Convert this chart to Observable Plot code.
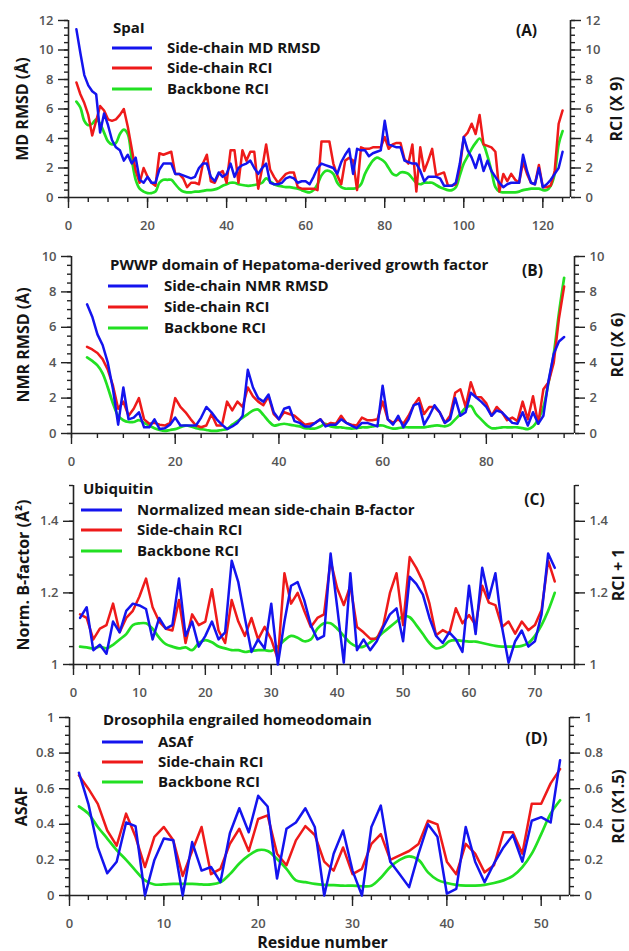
<!DOCTYPE html>
<html><head><meta charset="utf-8">
<script src="https://cdn.jsdelivr.net/npm/d3@7"></script>
<script src="https://cdn.jsdelivr.net/npm/@observablehq/plot@0.6"></script>
<style>
body{margin:0;background:#fff;}
#chart{width:629px;}
#chart svg{display:block;}
</style></head><body><div id="chart"></div>
<script>
const seriesColors = ["#1414ee", "#ee1a1a", "#22e022"];

// Panel A: SpaI (residues 2..125)
const aTitle = "SpaI";
const aNames = ["Side-chain MD RMSD", "Side-chain RCI", "Backbone RCI"];
const aStart = 2;
const aBlue = [11.4,9.8,8.3,7.6,7.2,7.0,4.4,5.7,4.9,3.9,3.4,3.2,2.5,2.9,2.3,2.7,1.2,1.0,1.4,1.0,1.0,1.9,2.3,2.3,2.3,1.6,1.6,1.5,1.4,1.3,1.4,2.0,2.3,2.3,1.4,1.1,1.7,1.4,1.6,2.3,1.4,2.0,2.2,2.3,2.5,2.0,1.6,2.0,2.3,1.0,0.9,0.9,1.0,1.3,1.4,1.3,1.0,1.1,1.1,0.9,1.4,2.0,2.3,2.2,2.1,2.0,1.6,2.4,2.9,3.3,1.6,3.3,3.2,3.2,2.8,3.0,3.1,3.2,5.2,3.6,3.5,3.4,3.4,2.5,2.4,2.3,2.3,1.8,1.1,1.4,1.4,1.4,1.3,0.8,0.8,0.8,1.0,2.3,4.1,3.2,2.7,2.0,2.9,1.8,2.5,1.8,1.4,1.0,0.7,0.9,1.0,1.0,1.0,2.9,1.8,1.0,0.9,2.0,0.7,0.9,1.2,1.6,2.0,3.1];
const aRed = [7.8,7.0,6.4,5.6,4.2,5.2,6.2,5.9,5.3,5.2,5.3,5.6,6.0,4.8,3.3,1.8,1.0,2.0,1.4,1.0,0.8,3.0,2.9,3.0,3.1,1.6,1.6,1.3,0.7,1.0,1.0,0.9,2.3,2.9,1.1,1.0,1.6,1.8,1.0,3.2,3.2,1.0,3.2,2.5,3.1,3.1,0.6,2.0,3.6,1.9,1.4,1.0,1.3,1.6,1.7,1.7,0.7,0.6,0.6,0.6,0.6,0.5,3.8,3.8,3.8,2.3,1.5,0.9,2.5,2.7,2.5,0.5,3.4,3.3,3.3,3.4,3.4,3.4,4.1,3.3,3.6,3.7,3.7,2.6,2.3,3.6,0.4,3.4,1.8,2.5,3.3,1.5,1.6,1.7,0.8,0.8,0.9,2.0,4.1,4.4,5.0,4.3,5.6,3.6,3.5,3.4,3.1,0.4,1.6,1.1,1.6,1.2,1.0,2.4,1.6,1.0,0.9,2.2,0.7,0.7,0.8,1.8,5.0,5.9];
const aGreen = [6.5,6.1,5.2,4.9,5.0,5.3,5.0,4.4,3.8,3.6,3.7,4.3,4.6,4.3,2.6,1.2,0.6,0.4,0.3,0.3,0.4,1.0,1.2,1.2,1.2,0.9,0.6,0.4,0.35,0.35,0.4,0.4,0.45,0.5,0.5,0.55,0.65,0.8,0.9,1.0,1.0,0.9,0.85,0.8,0.8,0.85,0.9,1.0,1.3,1.1,0.9,0.8,0.75,0.7,0.7,0.65,0.6,0.5,0.4,0.35,0.5,0.9,1.5,1.8,1.8,1.6,1.0,0.7,0.6,0.6,0.6,0.65,0.9,1.6,2.1,2.5,2.7,2.6,2.4,2.0,1.6,1.5,1.7,1.7,1.6,1.3,1.0,0.9,1.0,1.0,1.0,0.85,0.7,0.6,0.5,0.5,0.7,1.5,2.3,2.8,3.3,3.7,4.0,3.6,2.8,1.8,0.7,0.4,0.35,0.35,0.35,0.35,0.4,0.5,0.55,0.6,0.6,0.6,0.5,0.5,0.8,1.6,3.6,4.5];

// Panel B: PWWP domain (residues 3..95)
const bTitle = "PWWP domain of Hepatoma-derived growth factor";
const bNames = ["Side-chain NMR RMSD", "Side-chain RCI", "Backbone RCI"];
const bStart = 3;
const bBlue = [7.3,6.6,5.6,5.0,4.0,2.5,0.5,2.6,0.8,0.9,1.2,0.35,0.35,0.8,0.25,0.3,0.5,0.9,0.45,0.45,0.45,0.45,0.9,1.5,1.2,0.8,0.5,0.25,0.4,0.6,1.0,3.6,2.6,2.0,1.8,2.2,1.2,0.8,1.4,1.5,0.7,0.6,0.4,0.4,0.6,0.8,0.4,0.5,0.5,0.8,0.6,0.45,0.3,0.6,0.6,0.5,0.4,2.7,0.8,0.5,1.0,0.35,0.8,1.6,1.7,0.5,1.0,1.6,1.2,0.6,0.8,2.0,1.0,1.2,2.3,2.05,1.8,1.5,1.0,1.3,1.2,0.9,0.6,0.55,1.2,0.45,1.2,0.55,1.0,3.0,4.5,5.2,5.45];
const bRed = [4.9,4.75,4.55,4.2,3.6,2.7,1.4,1.8,1.0,1.4,2.0,0.8,0.55,0.6,0.5,0.45,0.6,2.0,1.5,1.2,0.8,0.45,0.35,0.45,1.1,0.45,0.45,1.8,1.3,1.8,1.5,2.6,2.1,1.8,1.6,2.1,1.1,0.8,1.2,1.1,1.0,0.75,0.5,0.55,0.6,0.8,0.45,0.6,0.55,1.0,0.6,0.5,0.45,0.9,0.75,0.75,0.8,1.8,0.8,0.6,0.8,0.55,1.0,1.6,2.0,1.1,1.5,1.5,1.2,0.6,1.0,2.3,2.5,1.5,2.9,2.05,2.05,1.7,1.0,1.5,1.2,0.75,0.9,0.7,1.8,0.8,2.1,0.55,2.5,2.9,4.0,6.5,8.3];
const bGreen = [4.3,4.1,3.85,3.4,2.6,1.7,1.0,0.75,0.65,0.65,0.75,0.6,0.45,0.3,0.2,0.15,0.2,0.25,0.35,0.45,0.4,0.3,0.25,0.2,0.15,0.15,0.2,0.25,0.5,0.7,0.9,1.1,1.3,1.35,1.05,0.7,0.45,0.5,0.55,0.5,0.45,0.4,0.3,0.28,0.28,0.4,0.55,0.4,0.35,0.35,0.3,0.28,0.3,0.35,0.35,0.4,0.45,0.45,0.35,0.28,0.3,0.35,0.35,0.35,0.35,0.35,0.4,0.45,0.45,0.4,0.5,0.8,1.1,1.45,1.55,1.1,0.8,0.5,0.3,0.3,0.35,0.35,0.35,0.35,0.3,0.25,0.4,0.8,1.5,2.9,4.5,6.8,8.8];

// Panel C: Ubiquitin (residues 1..73)
const cTitle = "Ubiquitin";
const cNames = ["Normalized mean side-chain B-factor", "Side-chain RCI", "Backbone RCI"];
const cStart = 1;
const cBlue = [1.13,1.16,1.04,1.055,1.03,1.12,1.09,1.15,1.17,1.165,1.155,1.07,1.13,1.1,1.11,1.24,1.08,1.12,1.05,1.08,1.12,1.07,1.09,1.29,1.23,1.13,1.035,1.07,1.045,1.17,1.0,1.12,1.22,1.23,1.18,1.11,1.07,1.08,1.31,1.16,1.005,1.255,1.04,1.07,1.04,1.065,1.105,1.14,1.157,1.065,1.245,1.225,1.195,1.13,1.08,1.06,1.09,1.07,1.035,1.22,1.085,1.27,1.185,1.255,1.105,1.005,1.065,1.095,1.05,1.065,1.14,1.31,1.27];
const cRed = [1.14,1.13,1.07,1.1,1.11,1.17,1.09,1.13,1.15,1.19,1.24,1.16,1.12,1.1,1.095,1.18,1.06,1.14,1.11,1.12,1.21,1.095,1.06,1.18,1.12,1.08,1.13,1.07,1.105,1.07,1.015,1.255,1.17,1.2,1.15,1.105,1.13,1.14,1.29,1.213,1.166,1.22,1.105,1.09,1.072,1.072,1.11,1.2,1.255,1.11,1.3,1.27,1.232,1.17,1.082,1.096,1.086,1.157,1.115,1.138,1.11,1.22,1.173,1.166,1.105,1.12,1.086,1.12,1.096,1.11,1.152,1.29,1.232];
const cGreen = [1.05,1.048,1.045,1.05,1.045,1.055,1.07,1.085,1.11,1.115,1.115,1.1,1.075,1.057,1.05,1.045,1.048,1.04,1.06,1.068,1.062,1.05,1.045,1.04,1.04,1.035,1.038,1.04,1.04,1.038,1.05,1.068,1.08,1.075,1.065,1.07,1.1,1.115,1.115,1.1,1.08,1.06,1.05,1.05,1.062,1.075,1.09,1.105,1.12,1.135,1.132,1.11,1.085,1.06,1.045,1.05,1.065,1.068,1.066,1.064,1.064,1.06,1.056,1.052,1.05,1.05,1.05,1.052,1.06,1.08,1.11,1.15,1.2];

// Panel D: Drosophila engrailed homeodomain (residues 1..52)
const dTitle = "Drosophila engrailed homeodomain";
const dNames = ["ASAf", "Side-chain RCI", "Backbone RCI"];
const dStart = 1;
const dBlue = [0.69,0.515,0.27,0.125,0.19,0.41,0.39,0.0,0.2,0.32,0.31,0.0,0.3,0.14,0.16,0.075,0.35,0.49,0.355,0.56,0.5,0.095,0.375,0.41,0.49,0.385,0.0,0.235,0.365,0.14,0.0,0.385,0.505,0.19,0.12,0.047,0.235,0.4,0.33,0.01,0.037,0.385,0.19,0.075,0.18,0.27,0.34,0.19,0.42,0.44,0.41,0.76];
const dRed = [0.675,0.6,0.515,0.365,0.28,0.46,0.33,0.16,0.33,0.385,0.31,0.11,0.25,0.385,0.12,0.15,0.29,0.375,0.25,0.43,0.45,0.235,0.17,0.31,0.39,0.34,0.19,0.14,0.27,0.12,0.15,0.29,0.345,0.2,0.225,0.25,0.29,0.42,0.4,0.19,0.12,0.29,0.235,0.13,0.17,0.355,0.355,0.235,0.515,0.515,0.63,0.71];
const dGreen = [0.5,0.46,0.385,0.32,0.255,0.2,0.14,0.085,0.062,0.062,0.065,0.065,0.065,0.062,0.062,0.075,0.12,0.18,0.225,0.255,0.25,0.205,0.15,0.085,0.075,0.065,0.06,0.058,0.055,0.055,0.052,0.055,0.1,0.16,0.2,0.22,0.2,0.13,0.088,0.07,0.06,0.056,0.056,0.06,0.07,0.085,0.11,0.16,0.235,0.345,0.46,0.535];

// Tick labels
const aXTicks = [0,20,40,60,80,100,120];
const aYTicks = [0,2,4,6,8,10,12];
const bXTicks = [0,20,40,60,80];
const bYTicks = [0,2,4,6,8,10];
const cXTicks = [0,10,20,30,40,50,60,70];
const cYTicks = [1,1.2,1.4];
const dXTicks = [0,10,20,30,40,50];
const dYTicks = [0,0.2,0.4,0.6,0.8,1];

const FONT = "'Open Sans', 'DejaVu Sans', sans-serif";

function panel(cfg) {
  const rows = [];
  const vals = [cfg.blue, cfg.red, cfg.green];
  vals.forEach((arr, k) => arr.forEach((v, i) => rows.push({residue: cfg.start + i, value: v, k})));
  const [x0, x1] = cfg.xDomain, [y0, y1] = cfg.yDomain;
  const xMinor = d3.range(x0, x1 + 1e-9, cfg.xMinorStep).filter(v => v <= x1);
  const yMinor = d3.range(y0, y1 + 1e-9, cfg.yMinorStep).map(v => +v.toFixed(4));
  const axisStroke = "#222";
  const tickText = "#555";
  const common = {stroke: axisStroke, strokeWidth: 1.4, label: null};
  const fmt = d => String(d);
  const marks = [
    Plot.axisX({...common, ticks: xMinor, tickSize: 5, tickFormat: () => ""}),
    Plot.axisX({...common, ticks: cfg.xTicks, tickSize: 11, tickPadding: 12, fill: tickText, tickFormat: fmt}),
    Plot.axisY({...common, anchor: "left", ticks: yMinor, tickSize: 4, tickFormat: () => ""}),
    Plot.axisY({...common, anchor: "left", ticks: cfg.yTicks, tickSize: 10, tickPadding: 5, fill: tickText, tickFormat: fmt}),
    Plot.axisY({...common, anchor: "right", ticks: yMinor, tickSize: 4, tickFormat: () => ""}),
    Plot.axisY({...common, anchor: "right", ticks: cfg.yTicks, tickSize: 10, tickPadding: 5, fill: tickText, tickFormat: fmt}),
    Plot.ruleY([y0], {stroke: axisStroke, strokeWidth: 1.6}),
    Plot.ruleX([x0], {stroke: axisStroke, strokeWidth: 1.6}),
    Plot.ruleX([x1], {stroke: axisStroke, strokeWidth: 1.6}),
    Plot.line(rows.filter(d => d.k === 2), {x: "residue", y: "value", stroke: seriesColors[2], strokeWidth: 2.7, curve: "catmull-rom"}),
    Plot.line(rows.filter(d => d.k === 1), {x: "residue", y: "value", stroke: seriesColors[1], strokeWidth: 2.5}),
    Plot.line(rows.filter(d => d.k === 0), {x: "residue", y: "value", stroke: seriesColors[0], strokeWidth: 2.5}),
    Plot.text([cfg.yLabel], {text: d => d, frameAnchor: "left", dx: cfg.yLabelDx, rotate: -90, textAnchor: "middle", lineAnchor: "middle", fontSize: 16, fontWeight: "bold", fill: "#151515"}),
    Plot.text([cfg.y2Label], {text: d => d, frameAnchor: "right", dx: cfg.y2LabelDx, rotate: -90, textAnchor: "middle", lineAnchor: "middle", fontSize: 16, fontWeight: "bold", fill: "#151515"}),
    Plot.text([cfg.letter], {text: d => d, frameAnchor: "top-right", dx: cfg.letterDx, dy: cfg.letterDy, textAnchor: "middle", lineAnchor: "middle", fontSize: 15.5, fontWeight: "bold", fill: "#151515"})
  ];
  if (cfg.xLabel) marks.push(Plot.text([cfg.xLabel], {text: d => d, frameAnchor: "bottom", dx: 3, dy: 47, textAnchor: "middle", lineAnchor: "middle", fontSize: 16, fontWeight: "bold", fill: "#151515"}));
  const svg = Plot.plot({
    width: 629, height: cfg.height,
    marginTop: cfg.mt, marginBottom: cfg.mb, marginLeft: cfg.ml, marginRight: cfg.mr,
    x: {domain: cfg.xDomain, label: null},
    y: {domain: cfg.yDomain, label: null},
    style: {fontFamily: FONT, fontSize: "13px", fontWeight: "600", background: "#fff", overflow: "visible"},
    marks
  });
  // legend (inside the plot area)
  const L = cfg.legend;
  const g = d3.select(svg).append("g").attr("font-family", FONT).attr("font-size", 15).attr("font-weight", "bold").attr("fill", "#151515").attr("text-anchor", "start");
  g.append("text").attr("x", L.titleX).attr("y", L.titleY).attr("dy", "0.36em").attr("text-anchor", "start").text(cfg.title);
  cfg.names.forEach((name, k) => {
    const y = L.rowY[k];
    g.append("line").attr("x1", L.lineX1).attr("x2", L.lineX2).attr("y1", y).attr("y2", y)
      .attr("stroke", seriesColors[k]).attr("stroke-width", 2.8);
    g.append("text").attr("x", L.textX).attr("y", y).attr("dy", "0.36em").attr("text-anchor", "start").text(name);
  });
  document.getElementById("chart").appendChild(svg);
}

panel({title: aTitle, names: aNames, start: aStart, blue: aBlue, red: aRed, green: aGreen,
  xDomain: [0, 127], yDomain: [0, 12], xTicks: aXTicks, yTicks: aYTicks, xMinorStep: 5, yMinorStep: 0.5,
  height: 237, mt: 20, mb: 40, ml: 68, mr: 59,
  yLabel: "MD RMSD (Å)", yLabelDx: -46, y2Label: "RCI (X 9)", y2LabelDx: 46,
  letter: "(A)", letterDx: -44, letterDy: 11,
  legend: {titleX: 113, titleY: 28, lineX1: 112, lineX2: 152, textX: 167, rowY: [48, 68, 89]}});

panel({title: bTitle, names: bNames, start: bStart, blue: bBlue, red: bRed, green: bGreen,
  xDomain: [0, 97], yDomain: [0, 10], xTicks: bXTicks, yTicks: bYTicks, xMinorStep: 5, yMinorStep: 0.5,
  height: 232, mt: 19, mb: 36, ml: 71, mr: 55,
  yLabel: "NMR RMSD (Å)", yLabelDx: -48, y2Label: "RCI (X 6)", y2LabelDx: 43,
  letter: "(B)", letterDx: -42, letterDy: 15,
  legend: {titleX: 110, titleY: 28, lineX1: 108, lineX2: 148, textX: 164, rowY: [49, 70, 91]}});

panel({title: cTitle, names: cNames, start: cStart, blue: cBlue, red: cRed, green: cGreen,
  xDomain: [0, 76], yDomain: [1, 1.5], xTicks: cXTicks, yTicks: cYTicks, xMinorStep: 2, yMinorStep: 0.05,
  height: 231, mt: 16, mb: 36, ml: 73, mr: 55,
  yLabel: "Norm. B-factor (Å²)", yLabelDx: -50, y2Label: "RCI + 1", y2LabelDx: 44,
  letter: "(C)", letterDx: -40, letterDy: 15,
  legend: {titleX: 83, titleY: 20, lineX1: 81, lineX2: 122, textX: 137, rowY: [41, 61, 82]}});

panel({title: dTitle, names: dNames, start: dStart, blue: dBlue, red: dRed, green: dGreen,
  xDomain: [0, 53], yDomain: [0, 1], xTicks: dXTicks, yTicks: dYTicks, xMinorStep: 2, yMinorStep: 0.05,
  height: 251, mt: 17, mb: 56, ml: 69, mr: 60,
  yLabel: "ASAF", yLabelDx: -48, y2Label: "RCI (X1.5)", y2LabelDx: 49,
  letter: "(D)", letterDx: -33, letterDy: 22, xLabel: "Residue number",
  legend: {titleX: 103, titleY: 20, lineX1: 102, lineX2: 143, textX: 158, rowY: [42, 62, 82]}});
</script></body></html>
